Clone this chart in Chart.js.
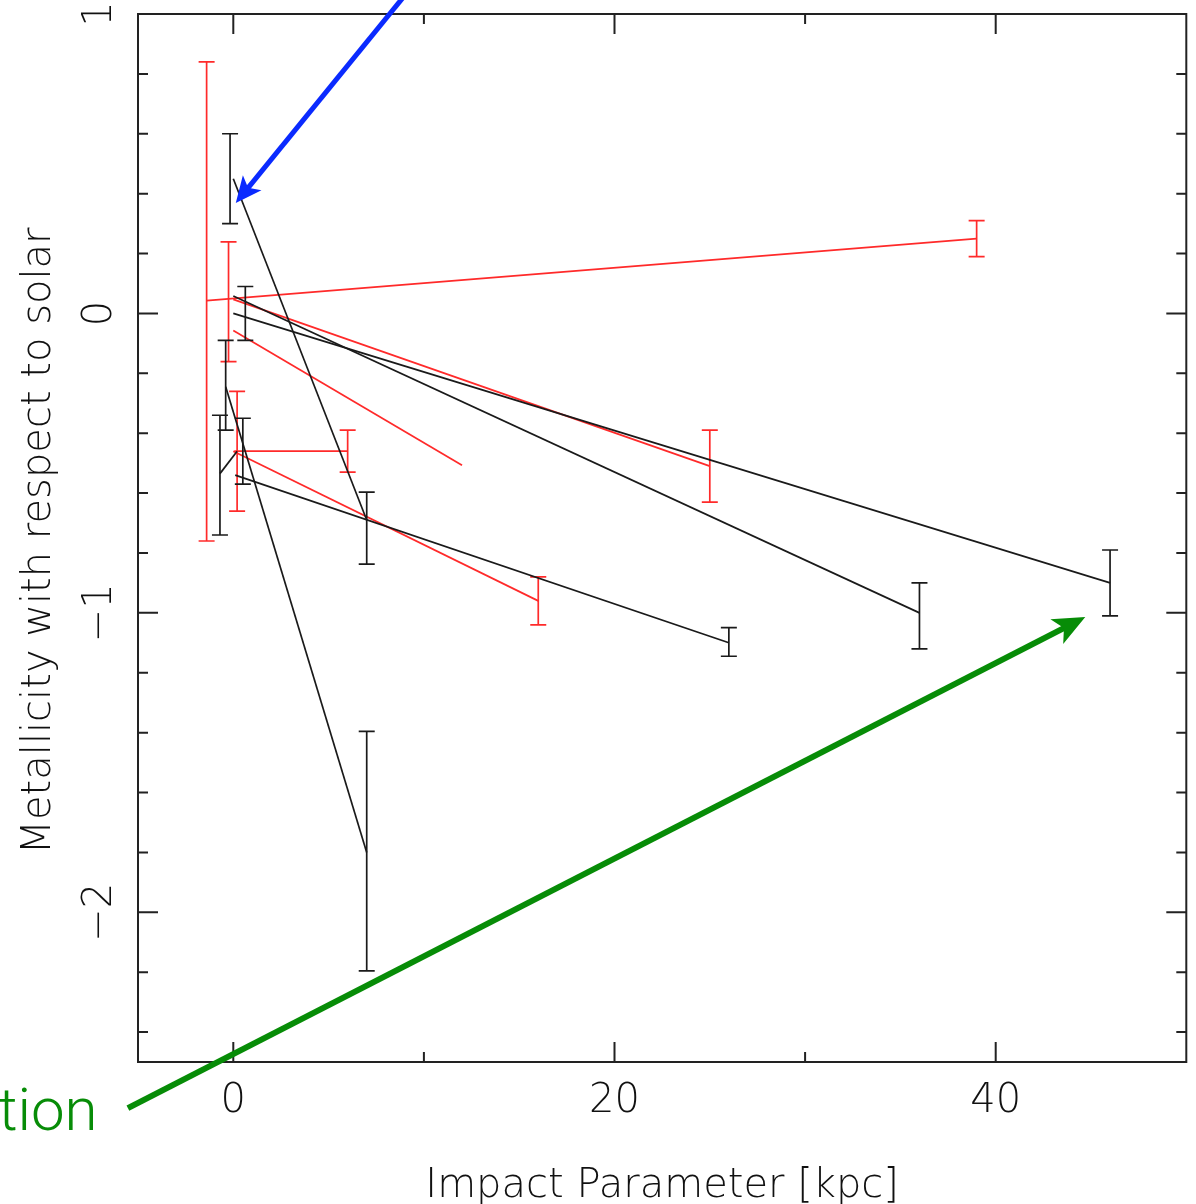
<!DOCTYPE html>
<html>
<head>
<meta charset="utf-8">
<script src="https://cdn.jsdelivr.net/npm/chart.js@4.4.1/dist/chart.umd.min.js"></script>
<style>
  html, body { margin: 0; padding: 0; background: #fff; }
</style>
</head>
<body>
<canvas id="myChart" width="1196" height="1204"></canvas>
<script>
// axis ranges and ticks
const xMin = -5, xMax = 50;
const yMin = -2.5, yMax = 1;
const xMajorTicks = [0, 20, 40];
const xMinorTicks = [10, 30];
const xTickLabels = ["0", "20", "40"];
const yMajorTicks = [-2, -1, 0, 1];
const yMinorTicks = [-2.4, -2.2, -1.8, -1.6, -1.4, -1.2, -0.8, -0.6, -0.4, -0.2, 0.2, 0.4, 0.6, 0.8];
const yTickLabels = ["\u22122", "\u22121", "0", "1"];

// black segments (start -> end)
const blackX0 = [0, 0, 0, -0.4, 0.1, -0.7];
const blackY0 = [0.45, 0.058, 0.0, -0.245, -0.54, -0.535];
const blackX1 = [7, 36, 46, 7, 26, 0.2];
const blackY1 = [-0.69, -1.0, -0.9, -1.8, -1.1, -0.46];

// red segments (start -> end)
const redX0 = [-1.4, 0, 0, 0.05, 0];
const redY0 = [0.043, 0.047, -0.057, -0.46, -0.46];
const redX1 = [39, 25, 12, 6, 16];
const redY1 = [0.25, -0.51, -0.507, -0.46, -0.96];

// error bars: position and half length
const blackErrX = [-0.17, 0.63, -0.4, -0.7, 0.5, 7, 7, 26, 36, 46];
const blackErrY = [0.45, 0.0, -0.24, -0.54, -0.46, -0.717, -1.796, -1.097, -1.01, -0.9];
const blackErrE = [0.15, 0.09, 0.15, 0.2, 0.11, 0.12, 0.4, 0.048, 0.11, 0.11];

const redErrX = [-1.4, -0.25, 0.2, 6, 16, 25, 39];
const redErrY = [0.04, 0.039, -0.46, -0.46, -0.96, -0.51, 0.25];
const redErrE = [0.8, 0.2, 0.2, 0.07, 0.08, 0.12, 0.06];

// annotation arrows, in data units (tail x, tail y, tip x, tip y)
const blueArrow = [8.93, 1.057, 0.13, 0.369];
const greenArrow = [-5.53, -2.654, 44.7, -1.014];
const greenTextPos = [-7.12, -2.727];

const BLACK = '#1a1a1a';
const RED = '#ff2a2a';

let datasets = [];

function addSegments(x0, y0, x1, y1, color) {
  for (let i = 0; i < x0.length; i++) {
    datasets.push({
      data: [{x: x0[i], y: y0[i]}, {x: x1[i], y: y1[i]}],
      borderColor: color,
      borderWidth: 1.7,
      pointRadius: 0,
      showLine: true
    });
  }
}

function addErrorBars(ex, ey, ee, color) {
  for (let i = 0; i < ex.length; i++) {
    datasets.push({
      data: [{x: ex[i], y: ey[i] - ee[i]}, {x: ex[i], y: ey[i] + ee[i]}],
      borderColor: color,
      borderWidth: 1.7,
      pointStyle: 'line',
      pointRadius: 8,
      pointBorderWidth: 1.7,
      pointBorderColor: color,
      showLine: true
    });
  }
}

addSegments(blackX0, blackY0, blackX1, blackY1, BLACK);
addErrorBars(blackErrX, blackErrY, blackErrE, BLACK);
addSegments(redX0, redY0, redX1, redY1, RED);
addErrorBars(redErrX, redErrY, redErrE, RED);

const FONT = "200 40px 'DejaVu Sans', sans-serif";

function drawArrow(ctx, x0, y0, x1, y1, color, lw, headLen, headHalf) {
  const L = Math.hypot(x1 - x0, y1 - y0);
  const ux = (x1 - x0) / L, uy = (y1 - y0) / L;
  const bx = x1 - ux * headLen, by = y1 - uy * headLen;
  ctx.strokeStyle = color;
  ctx.lineWidth = lw;
  ctx.beginPath();
  ctx.moveTo(x0, y0);
  ctx.lineTo(x1 - ux * headLen * 0.6, y1 - uy * headLen * 0.6);
  ctx.stroke();
  ctx.fillStyle = color;
  ctx.beginPath();
  ctx.moveTo(x1, y1);
  ctx.lineTo(bx - uy * headHalf, by + ux * headHalf);
  ctx.lineTo(x1 - ux * headLen * 0.75, y1 - uy * headLen * 0.75);
  ctx.lineTo(bx + uy * headHalf, by - ux * headHalf);
  ctx.closePath();
  ctx.fill();
}

// frame, inward ticks, labels and annotations
const framePlugin = {
  id: 'framePlugin',
  afterDraw(chart) {
    const ctx = chart.ctx;
    const a = chart.chartArea;
    const sx = chart.scales.x, sy = chart.scales.y;
    ctx.save();
    ctx.strokeStyle = '#222';
    ctx.lineWidth = 2;
    ctx.strokeRect(a.left, a.top, a.right - a.left, a.bottom - a.top);

    ctx.beginPath();
    function xTick(v, len) {
      const px = sx.getPixelForValue(v);
      ctx.moveTo(px, a.bottom); ctx.lineTo(px, a.bottom - len);
      ctx.moveTo(px, a.top); ctx.lineTo(px, a.top + len);
    }
    function yTick(v, len) {
      const py = sy.getPixelForValue(v);
      ctx.moveTo(a.left, py); ctx.lineTo(a.left + len, py);
      ctx.moveTo(a.right, py); ctx.lineTo(a.right - len, py);
    }
    xMajorTicks.forEach(v => xTick(v, 20));
    xMinorTicks.forEach(v => xTick(v, 10));
    yMajorTicks.forEach(v => yTick(v, 20));
    yMinorTicks.forEach(v => yTick(v, 10));
    ctx.stroke();

    ctx.fillStyle = '#111';
    ctx.font = FONT;
    ctx.textAlign = 'center';
    ctx.textBaseline = 'alphabetic';
    xMajorTicks.forEach((v, i) => {
      ctx.fillText(xTickLabels[i], sx.getPixelForValue(v), a.bottom + 50);
    });
    ctx.fillText('Impact Parameter [kpc]', (a.left + a.right) / 2, a.bottom + 135);

    yMajorTicks.forEach((v, i) => {
      ctx.save();
      ctx.translate(a.left - 27, sy.getPixelForValue(v));
      ctx.rotate(-Math.PI / 2);
      ctx.fillText(yTickLabels[i], 0, 0);
      ctx.restore();
    });
    ctx.save();
    ctx.translate(50, (a.top + a.bottom) / 2 + 3);
    ctx.rotate(-Math.PI / 2);
    ctx.fillText('Metallicity with respect to solar', 0, 0);
    ctx.restore();

    drawArrow(ctx, sx.getPixelForValue(blueArrow[0]), sy.getPixelForValue(blueArrow[1]),
      sx.getPixelForValue(blueArrow[2]), sy.getPixelForValue(blueArrow[3]), '#0a2aff', 5, 26, 12);
    drawArrow(ctx, sx.getPixelForValue(greenArrow[0]), sy.getPixelForValue(greenArrow[1]),
      sx.getPixelForValue(greenArrow[2]), sy.getPixelForValue(greenArrow[3]), '#078c07', 6, 32, 14);

    ctx.fillStyle = '#078c07';
    ctx.font = "300 60px Roboto, 'DejaVu Sans', sans-serif";
    ctx.textAlign = 'right';
    ctx.fillText('tion', sx.getPixelForValue(greenTextPos[0]), sy.getPixelForValue(greenTextPos[1]));
    ctx.restore();
  }
};

let ctx = document.getElementById("myChart");

let chart = new Chart(ctx, {
  type: 'scatter',
  data: { datasets: datasets },
  options: {
    responsive: false,
    animation: false,
    events: [],
    layout: { padding: { left: 138, right: 8, top: 14, bottom: 142 } },
    plugins: { legend: { display: false }, tooltip: { enabled: false } },
    scales: {
      x: { type: 'linear', min: xMin, max: xMax, display: false },
      y: { type: 'linear', min: yMin, max: yMax, display: false }
    }
  },
  plugins: [framePlugin]
});
</script>
</body>
</html>
